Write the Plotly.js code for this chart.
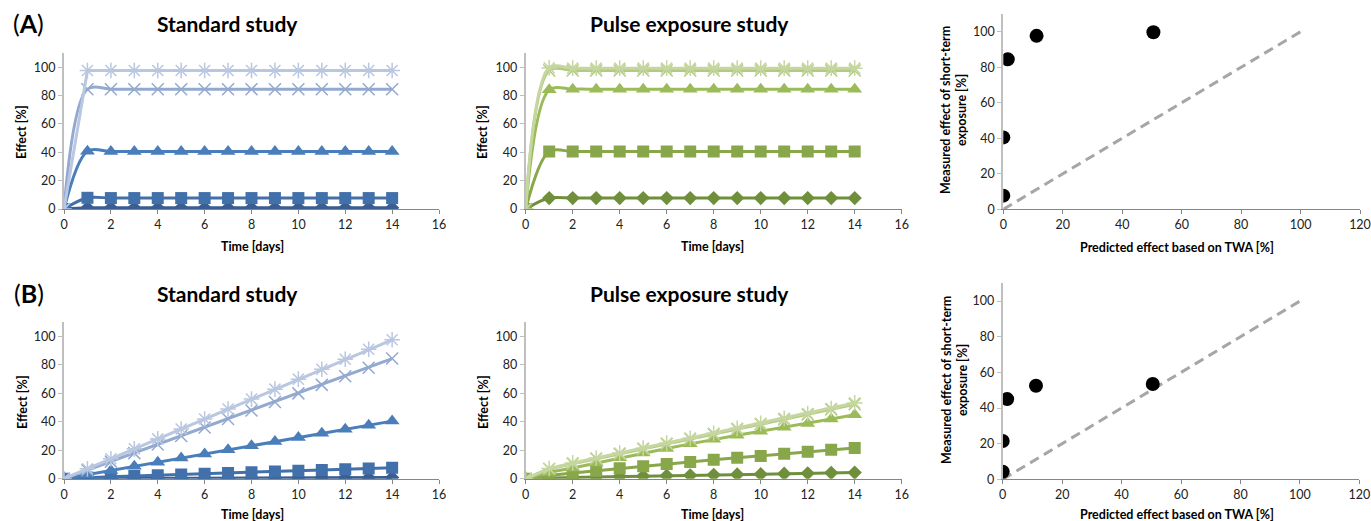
<!DOCTYPE html>
<html><head><meta charset="utf-8">
<script src="https://cdn.plot.ly/plotly-3.0.1.min.js"></script>
<style>html,body{margin:0;padding:0;background:#fff}#chart{width:1371px;height:521px}</style>
</head><body><div id="chart"></div>
<script>
// ---------- DATA ----------
const days = [0,1,2,3,4,5,6,7,8,9,10,11,12,13,14];

// (A) Standard study (five concentrations)
const stdA_c1 = [0,0.8,0.8,0.8,0.8,0.8,0.8,0.8,0.8,0.8,0.8,0.8,0.8,0.8,0.8];
const stdA_c2 = [0,7.9,7.7,7.7,7.7,7.7,7.7,7.7,7.7,7.7,7.7,7.7,7.7,7.7,7.7];
const stdA_c3 = [0,40.8,40.5,40.5,40.5,40.5,40.5,40.5,40.5,40.5,40.5,40.5,40.5,40.5,40.5];
const stdA_c4 = [0,84.5,84.5,84.5,84.5,84.5,84.5,84.5,84.5,84.5,84.5,84.5,84.5,84.5,84.5];
const stdA_c5 = [0,97.7,97.7,97.7,97.7,97.7,97.7,97.7,97.7,97.7,97.7,97.7,97.7,97.7,97.7];

// (A) Pulse exposure study
const pulA_c1 = [0,7.7,7.7,7.7,7.7,7.7,7.7,7.7,7.7,7.7,7.7,7.7,7.7,7.7,7.7];
const pulA_c2 = [0,40.5,40.5,40.5,40.5,40.5,40.5,40.5,40.5,40.5,40.5,40.5,40.5,40.5,40.5];
const pulA_c3 = [0,84,84.5,84.5,84.5,84.5,84.5,84.5,84.5,84.5,84.5,84.5,84.5,84.5,84.5];
const pulA_c4 = [0,97.7,97.7,97.7,97.7,97.7,97.7,97.7,97.7,97.7,97.7,97.7,97.7,97.7,97.7];
const pulA_c5 = [0,99.5,99.3,99.3,99.3,99.3,99.3,99.3,99.3,99.3,99.3,99.3,99.3,99.3,99.3];

// (A) Comparison
const twaA = [0, 0, 1.5, 11.2, 50.5];
const measA = [7.7, 40.5, 84.5, 97.7, 99.7];

// (B) Standard study
const stdB_c1 = [0,0.06,0.12,0.18,0.24,0.3,0.35,0.4,0.46,0.52,0.58,0.64,0.7,0.75,0.8];
const stdB_c2 = [0,0.9,1.4,1.9,2.5,3.0,3.5,4.0,4.6,5.1,5.6,6.2,6.7,7.2,7.7];
const stdB_c3 = [0,2.9,5.8,8.7,11.6,14.5,17.4,20.3,23.2,26.1,29,31.9,34.8,37.6,40.5];
const stdB_c4 = [0,6,12,18,24,30,36,42,48,54,60,66,72,78,84.5];
const stdB_c5 = [0,7,14,21,28,35,42,49,56,63,70,77,84,91,97.7];

// (B) Pulse exposure study
const pulB_c1 = [0,0.6,0.9,1.2,1.5,1.8,2.1,2.4,2.7,3.0,3.2,3.5,3.8,4.1,4.3];
const pulB_c2 = [0,2.3,4.0,5.6,7.3,8.8,10.3,11.8,13.3,14.7,16.0,17.5,19.0,20.3,21.6];
const pulB_c3 = [0,4.5,7.5,11,14.7,18,21.3,24.5,27.8,30.6,33.4,36.1,38.8,42,45];
const pulB_c4 = [0,6.8,10.5,14,17.4,20.9,24.4,27.9,31.3,34.8,38.3,41.7,45.2,48.7,52.3];
const pulB_c5 = [0,7.2,11.1,14.6,18.0,21.5,25.0,28.5,32.0,35.4,38.9,42.4,45.9,49.4,53.3];

// (B) Comparison
const twaB = [0, 0, 1.5, 11.2, 50.5];
const measB = [4.2, 21.5, 45, 52.5, 53.5];

// 1:1 reference line
const refX = [0, 100];
const refY = [0, 100];

// Tick labels
const effTicks = [0,20,40,60,80,100];
const dayTicks = [0,2,4,6,8,10,12,14,16];
const twaTicks = [0,20,40,60,80,100,120];

// ---------- STYLE ----------
const blue = ['#3A5E91','#4170AA','#4A7EBB','#93A9CF','#B9C7E0'];
const green = ['#6F8F3B','#88A74B','#9BBB59','#B3CA81','#C5D6A0'];
const symbols = ['diamond','square','triangle-up','x-thin-open','asterisk-open'];
const sizes = [11,12,13,12,13];

function series(ys, colors, xa, ya, shapes) {
  return ys.map((y, i) => ({
    x: days, y: y, xaxis: xa, yaxis: ya, type: 'scatter', mode: 'lines+markers',
    showlegend: false, hoverinfo: 'skip',
    line: {color: colors[i], width: 3, shape: shapes[i], smoothing: 0.95},
    marker: {symbol: symbols[i], size: sizes[i], color: colors[i],
             line: {color: colors[i], width: (i >= 3 ? 1.5 : 0)}}
  }));
}

const traces = [];
traces.push(...series([stdA_c1,stdA_c2,stdA_c3,stdA_c4,stdA_c5], blue, 'x', 'y',
  ['spline','spline','spline','spline','linear']));
traces.push(...series([pulA_c1,pulA_c2,pulA_c3,pulA_c4,pulA_c5], green, 'x2', 'y2',
  ['spline','spline','spline','spline','spline']));
traces.push(...series([stdB_c1,stdB_c2,stdB_c3,stdB_c4,stdB_c5], blue, 'x4', 'y4',
  ['linear','linear','linear','linear','linear']));
traces.push(...series([pulB_c1,pulB_c2,pulB_c3,pulB_c4,pulB_c5], green, 'x5', 'y5',
  ['linear','linear','linear','linear','linear']));

[['x3','y3',twaA,measA],['x6','y6',twaB,measB]].forEach(([xa,ya,xs,ys]) => {
  traces.push({x: refX, y: refY, xaxis: xa, yaxis: ya, type: 'scatter', mode: 'lines',
    showlegend: false, hoverinfo: 'skip',
    line: {color: '#A6A6A6', width: 3, dash: '10px,6px'}});
  traces.push({x: xs, y: ys, xaxis: xa, yaxis: ya, type: 'scatter', mode: 'markers',
    showlegend: false, hoverinfo: 'skip',
    marker: {color: '#000', size: 14}});
});

const W = 1371, H = 521;
const px = v => v / W;
const py = v => 1 - v / H;
const FONT = 'Lato, "Open Sans", sans-serif';
const tickFont = {family: FONT, size: 12.5, color: '#222'};

function xax(d0, d1, anchor, range, ticks) {
  return {domain: [px(d0), px(d1)], anchor: anchor, range: range, tickvals: ticks,
    ticktext: ticks.map(String), showgrid: false, zeroline: false, showline: true,
    linecolor: '#868686', linewidth: 1, ticks: 'outside', ticklen: 4, tickcolor: '#868686',
    tickfont: tickFont, fixedrange: true};
}
function yax(d0, d1, anchor, ticks) {
  return {domain: [py(d1), py(d0)], anchor: anchor, range: [0, 110], tickvals: ticks,
    ticktext: ticks.map(String), showgrid: false, zeroline: false, showline: true,
    linecolor: '#BFBFBF', linewidth: 2, ticks: 'outside', ticklen: 4, tickcolor: '#BFBFBF',
    tickfont: tickFont, fixedrange: true};
}

const layout = {
  width: W, height: H, margin: {l: 0, r: 0, t: 0, b: 0},
  paper_bgcolor: '#fff', plot_bgcolor: 'rgba(0,0,0,0)',
  font: {family: FONT, color: '#000'},
  xaxis:  xax(64, 439, 'y', [0, 16], dayTicks),
  yaxis:  yax(53, 209, 'x', effTicks),
  xaxis2: xax(525.7, 901.7, 'y2', [0, 16], dayTicks),
  yaxis2: yax(53, 209, 'x2', effTicks),
  xaxis3: xax(1003.3, 1360, 'y3', [0, 120], twaTicks),
  yaxis3: yax(14, 209.3, 'x3', effTicks),
  xaxis4: xax(64, 439, 'y4', [0, 16], dayTicks),
  yaxis4: yax(322.3, 478.7, 'x4', effTicks),
  xaxis5: xax(525.7, 901.7, 'y5', [0, 16], dayTicks),
  yaxis5: yax(322.3, 478.7, 'x5', effTicks),
  xaxis6: xax(1002.7, 1359.3, 'y6', [0, 120], twaTicks),
  yaxis6: yax(283.3, 479.3, 'x6', effTicks),
  annotations: []
};

function ann(text, x, y, size, bold, angle) {
  layout.annotations.push({text: bold ? '<b>' + text + '</b>' : text,
    x: px(x), y: py(y), xref: 'paper', yref: 'paper', showarrow: false,
    xanchor: 'center', yanchor: 'middle', textangle: angle || 0,
    font: {family: FONT, size: size, color: '#000'}});
}
ann('(<b>A</b>)', 29, 23, 25, false);
ann('(<b>B</b>)', 29, 293, 25, false);
ann('Standard study', 228, 23, 21, true);
ann('Pulse exposure study', 690, 23, 21, true);
ann('Standard study', 228, 293, 21, true);
ann('Pulse exposure study', 690, 293, 21, true);
ann('Effect [%]', 22, 132, 12.5, true, -90);
ann('Effect [%]', 483, 132, 12.5, true, -90);
ann('Effect [%]', 22, 402, 12.5, true, -90);
ann('Effect [%]', 483, 402, 12.5, true, -90);
ann('Time [days]', 252, 246, 12.5, true);
ann('Time [days]', 713, 246, 12.5, true);
ann('Time [days]', 252, 514, 12.5, true);
ann('Time [days]', 713, 514, 12.5, true);
ann('Predicted effect based on TWA [%]', 1177, 247, 12.5, true);
ann('Predicted effect based on TWA [%]', 1177, 514, 12.5, true);
ann('Measured effect of short-term<br>exposure [%]', 954, 110, 12.5, true, -90);
ann('Measured effect of short-term<br>exposure [%]', 954, 380, 12.5, true, -90);

Plotly.newPlot('chart', traces, layout, {displayModeBar: false, staticPlot: true});
</script>
</body></html>
